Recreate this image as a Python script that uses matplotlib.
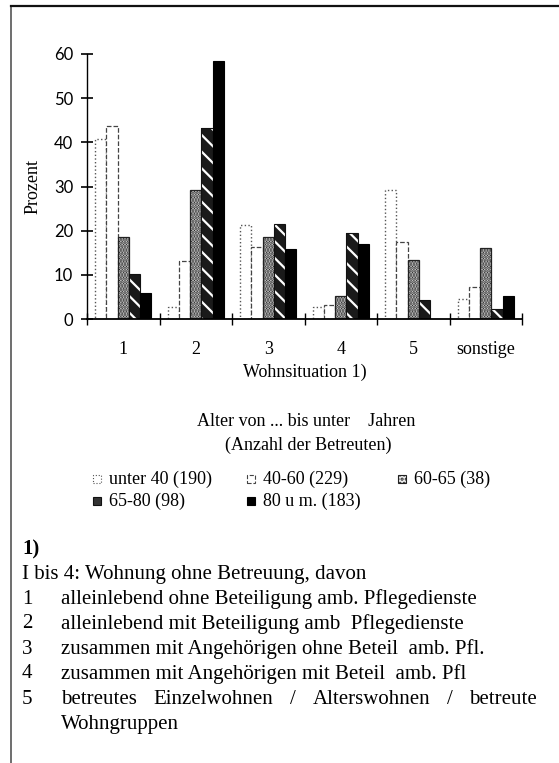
import matplotlib
matplotlib.use('Agg')
import matplotlib.pyplot as plt
from matplotlib.patches import Rectangle
from matplotlib.lines import Line2D
import numpy as np

# Daten
gruppen = ['1', '2', '3', '4', '5', 'sonstige']
unter40 = [40.7, 2.7, 21.3, 2.7, 29.2, 4.5]
a40_60 = [43.8, 13.1, 16.3, 3.2, 17.4, 7.2]
a60_65 = [18.5, 29.2, 18.5, 5.2, 13.3, 16.1]
a65_80 = [10.2, 43.2, 21.5, 19.5, 4.3, 2.2]
ab80 = [5.9, 58.4, 15.8, 16.9, 0.0, 5.2]
namen = ['unter 40 (190)', '40-60 (229)', '60-65 (38)', '65-80 (98)', '80 u m. (183)']
fussnote = ['I bis 4: Wohnung ohne Betreuung, davon',
            'alleinlebend ohne Beteiligung amb. Pflegedienste',
            'alleinlebend mit Beteiligung amb  Pflegedienste',
            'zusammen mit Angehörigen ohne Beteil  amb. Pfl.',
            'zusammen mit Angehörigen mit Beteil  amb. Pfl']
nummern = ['1', '2', '3', '4', '5']

W, H = 559, 763
serif = 'Liberation Serif'
plt.rcParams['font.family'] = serif
plt.rcParams['hatch.linewidth'] = 1.6

def fx(p):
    return p / W

def fy(p):
    return 1 - p / H

fig = plt.figure(figsize=(W / 100, H / 100), dpi=100)
ax = fig.add_axes([fx(87), fy(319), fx(522) - fx(87), fy(54) - fy(319)])

stile = [
    dict(facecolor='white', edgecolor='#555555', linestyle=':', linewidth=1.0),
    dict(facecolor='white', edgecolor='#444444', linestyle='--', linewidth=0.9),
    dict(facecolor='#f0f0f0', edgecolor='#222222', hatch='......', linewidth=0.9),
    dict(facecolor='#1a1a1a', edgecolor='white', hatch='\\\\', linewidth=0),
    dict(facecolor='black', edgecolor='black', linewidth=0.8),
]

x = np.arange(len(gruppen))
bw = 0.155
serien = [unter40, a40_60, a60_65, a65_80, ab80]
for i, werte in enumerate(serien):
    pos = x + (i - 2) * bw
    ax.bar(pos, werte, width=bw, **stile[i])
    if i == 3:
        ax.bar(pos, werte, width=bw, fill=False, edgecolor='#111111', linewidth=0.8)

ax.set_xlim(-0.5, 5.5)
ax.set_ylim(0, 60)
for s in ['top', 'right']:
    ax.spines[s].set_visible(False)
ax.spines['left'].set_linewidth(1.0)
ax.spines['bottom'].set_linewidth(1.3)
ax.set_yticks(range(0, 61, 10))
ax.tick_params(axis='y', direction='inout', length=8, width=1.2, pad=6,
               labelsize=12, labelfontfamily='Lato')
ax.set_xticks(x)
ax.set_xticklabels(gruppen, fontsize=13)
ax.tick_params(axis='x', which='major', length=0, pad=16)
ax.set_xticks(np.arange(-0.5, 5.6, 1), minor=True)
ax.tick_params(axis='x', which='minor', direction='inout', length=8, width=1)
ax.set_xlabel('Wohnsituation 1)', fontsize=13, labelpad=4)
ax.set_ylabel('Prozent', fontsize=13, labelpad=9)

# Legende
fig.text(fx(306), fy(422), 'Alter von ... bis unter    Jahren', fontsize=13,
         ha='center', va='center')
fig.text(fx(308), fy(445), '(Anzahl der Betreuten)', fontsize=13,
         ha='center', va='center')
plaetze = [(97, 479), (251, 479), (402, 479), (97, 501), (251, 501)]
for i, (px, py) in enumerate(plaetze):
    st = dict(stile[i])
    if i == 3:
        st['edgecolor'] = '#111111'
        st.pop('hatch')
        st['facecolor'] = '#333333'
    st['linewidth'] = 0.8
    r = Rectangle((fx(px - 4), fy(py + 4)), fx(8), 8 / H, transform=fig.transFigure, **st)
    if i == 2:
        r.set_hatch('....')
    fig.add_artist(r)
    fig.text(fx(px + 12), fy(py), namen[i], fontsize=13, ha='left', va='center')

# Rahmen
fig.add_artist(Line2D([fx(11), fx(11)], [fy(6), 0], color='#555555', lw=1.2,
                      transform=fig.transFigure))
fig.add_artist(Line2D([fx(11), 1], [fy(6), fy(6)], color='#111111', lw=1.6,
                      transform=fig.transFigure))

# Fussnote
y0 = 549
dz = 25
gr = 15
fig.text(fx(22), fy(y0), '1)', fontsize=gr, fontweight='bold', va='center')
fig.text(fx(22), fy(y0 + dz), fussnote[0], fontsize=gr, va='center')
for k in range(4):
    yy = y0 + dz * (k + 2)
    fig.text(fx(22), fy(yy), nummern[k], fontsize=gr, va='center')
    fig.text(fx(61), fy(yy), fussnote[k + 1], fontsize=gr, va='center')
yy = y0 + dz * 6
fig.text(fx(22), fy(yy), nummern[4], fontsize=gr, va='center')
# Blocksatz
woerter = ['betreutes', 'Einzelwohnen', '/', 'Alterswohnen', '/', 'betreute']
renderer = fig.canvas.get_renderer()
texte = [fig.text(0, fy(yy), w, fontsize=gr, va='center') for w in woerter]
breiten = [t.get_window_extent(renderer).width for t in texte]
links, rechts = 61, 537
luecke = (rechts - links - sum(breiten)) / (len(woerter) - 1)
pos = links
for t, b in zip(texte, breiten):
    t.set_x(fx(pos))
    pos += b + luecke
fig.text(fx(61), fy(yy + dz), 'Wohngruppen', fontsize=gr, va='center')

fig.savefig('out.png', dpi=100)
